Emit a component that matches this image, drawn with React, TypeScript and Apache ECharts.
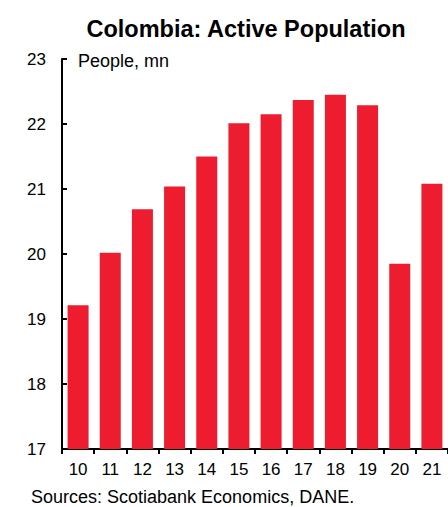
import React, { useEffect, useRef } from "react";
import * as echarts from "echarts";

// Years (20xx) and active population, millions of people
const years = ["10", "11", "12", "13", "14", "15", "16", "17", "18", "19", "20", "21"];
const activePopulation = [19.21, 20.02, 20.69, 21.04, 21.5, 22.01, 22.15, 22.37, 22.45, 22.29, 19.85, 21.08];
const yTicks = { min: 17, max: 23, step: 1 };

const FONT = "'Liberation Sans', Arial, Helvetica, sans-serif";
const RED = "#ED1C2E";

export default function App() {
  const ref = useRef<HTMLDivElement>(null);

  useEffect(() => {
    if (!ref.current) return;
    const chart = echarts.init(ref.current, undefined, { renderer: "svg" });
    chart.setOption({
      animation: false,
      backgroundColor: "#ffffff",
      textStyle: { fontFamily: FONT },
      title: {
        text: "Colombia: Active Population",
        left: 241,
        top: 12,
        textAlign: "center",
        textStyle: { fontFamily: FONT, fontSize: 23.5, fontWeight: "bold", color: "#000" },
      },
      graphic: [
        {
          type: "text",
          left: 78,
          top: 52,
          style: { text: "People, mn", fontFamily: FONT, fontSize: 18, fill: "#000" },
        },
        {
          type: "text",
          left: 31,
          top: 488,
          style: { text: "Sources: Scotiabank Economics, DANE.", fontFamily: FONT, fontSize: 18, fill: "#000" },
        },
      ],
      grid: { left: 62, top: 59, width: 396, height: 390, containLabel: false },
      xAxis: {
        type: "category",
        data: years,
        axisLine: { lineStyle: { color: "#000", width: 2 } },
        axisTick: { show: true, alignWithLabel: false, length: 5, lineStyle: { color: "#000", width: 2 } },
        axisLabel: { interval: 0, fontFamily: FONT, fontSize: 17, color: "#000", margin: 12 },
        splitLine: { show: false },
      },
      yAxis: {
        type: "value",
        min: yTicks.min,
        max: yTicks.max,
        interval: yTicks.step,
        axisLine: { show: true, lineStyle: { color: "#000", width: 2 } },
        axisTick: { show: true, inside: true, length: 5, lineStyle: { color: "#000", width: 2 } },
        axisLabel: { fontFamily: FONT, fontSize: 17, color: "#000", margin: 16 },
        splitLine: { show: false },
      },
      series: [
        {
          type: "bar",
          data: activePopulation,
          barWidth: 21,
          itemStyle: { color: RED },
        },
      ],
    });
    return () => chart.dispose();
  }, []);

  return (
    <div
      ref={ref}
      style={{ position: "fixed", left: 0, top: 0, width: 448, height: 507, background: "#fff" }}
    />
  );
}
